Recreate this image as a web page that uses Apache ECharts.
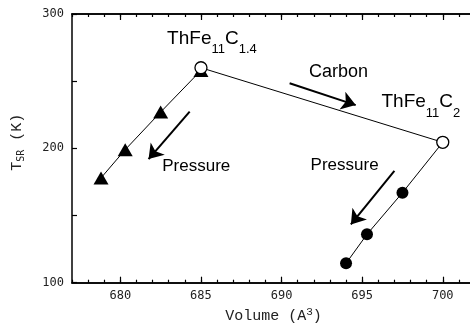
<!DOCTYPE html>
<html><head><meta charset="utf-8">
<script src="https://cdn.jsdelivr.net/npm/echarts@6/dist/echarts.min.js"></script>
<style>html,body{margin:0;padding:0;background:#fff;}#c{width:470px;height:324px;}</style>
</head><body><div id="c"></div>
<script>
// ---- data ----
const xMin = 677, xMax = 702;
const yMin = 100, yMax = 300;
const xMajorTicks = [680, 685, 690, 695, 700];
const yTickLabels = [100, 200, 300];
// ThFe11C1.4 under pressure (triangles)
const c14Volume = [685.0, 682.5, 680.3, 678.8];
const c14Tsr    = [258, 227, 199, 178];
// ThFe11C2 under pressure (filled circles)
const c2Volume = [700.0, 697.5, 695.3, 694.0];
const c2Tsr    = [204.5, 167, 136, 114.4];
// ambient-pressure compounds (open circles)
const ambVolume = [685.0, 700.0];
const ambTsr    = [260, 204.5];
// arrows [x0,y0,x1,y1] in data units
const arrows = [
  [690.5, 248.4, 694.6, 232.2],
  [684.3, 227.3, 681.75, 192.0],
  [697.0, 183.3, 694.3, 143.4]
];
// text annotations: anchor (left, middle of main text) in data units
const notes = [
  {x: 682.9, y: 281.4, size: 19, text: '{m|ThFe}{s|11}{m|C}{s|1.4}'},
  {x: 691.7, y: 256.0, size: 18, text: '{m|Carbon}'},
  {x: 696.2, y: 234.1, size: 19, text: '{m|ThFe}{s|11}{m|C}{s|2}'},
  {x: 682.6, y: 185.4, size: 17, text: '{m|Pressure}'},
  {x: 691.8, y: 186.1, size: 17, text: '{m|Pressure}'}
];

const zip = (a, b) => a.map((v, i) => [v, b[i]]);
const monoFont = 'DejaVu Sans Mono';
const chart = echarts.init(document.getElementById('c'), null, {renderer: 'canvas'});

function xAxis(pos, major, labels) {
  return {
    type: 'value', position: pos, min: xMin, max: xMax, interval: 1,
    axisLine: {show: true, onZero: false, lineStyle: {color: '#000', width: 1.5}},
    axisTick: major ? {show: true, inside: true, length: 6, customValues: xMajorTicks, lineStyle: {color: '#000', width: 1.2}}
                    : {show: true, inside: true, length: 3, lineStyle: {color: '#000', width: 1.2}},
    axisLabel: labels ? {show: true, customValues: xMajorTicks, margin: 7, fontFamily: monoFont, fontSize: 12, color: '#222'} : {show: false},
    splitLine: {show: false}
  };
}
function yAxis(pos, labels) {
  return {
    type: 'value', position: pos, min: yMin, max: yMax, interval: 50,
    axisLine: {show: true, onZero: false, lineStyle: {color: '#000', width: 1.5}},
    axisTick: {show: true, inside: true, length: 5, lineStyle: {color: '#000', width: 1.2}},
    axisLabel: labels ? {show: true, margin: 8, fontFamily: monoFont, fontSize: 12, color: '#222',
      formatter: v => yTickLabels.indexOf(v) >= 0 ? String(v) : ''} : {show: false},
    splitLine: {show: false}
  };
}

const xs = [xAxis('bottom', false, false), xAxis('bottom', true, true), xAxis('top', false, false), xAxis('top', true, false)];
xs[1].name = 'Volume (A{sup|3})';
xs[1].nameLocation = 'middle';
xs[1].nameGap = 24;
xs[1].nameTextStyle = {fontFamily: 'Liberation Mono', fontSize: 15, color: '#222',
  rich: {sup: {fontFamily: 'Liberation Mono', fontSize: 11, padding: [0, 0, 8, 0], verticalAlign: 'top'}}};
const ys = [yAxis('left', true), yAxis('right', false)];
ys[0].name = 'T{sub|SR} (K)';
ys[0].nameLocation = 'middle';
ys[0].nameGap = 46;
ys[0].nameRotate = 90;
ys[0].nameTextStyle = {fontFamily: 'Liberation Mono', fontSize: 15, color: '#222', padding: [0, 0, 0, 12],
  rich: {sub: {fontFamily: 'DejaVu Sans Mono', fontSize: 10, padding: [8, 0, 0, 0], verticalAlign: 'bottom'}}};

chart.setOption({
  animation: false,
  backgroundColor: '#fff',
  grid: {left: 72, top: 14, width: 403, height: 268.7, containLabel: false, outerBoundsMode: 'none'},
  xAxis: xs,
  yAxis: ys,
  series: [
    {type: 'line', data: zip(c14Volume, c14Tsr), symbol: 'triangle', symbolSize: [15, 13],
     itemStyle: {color: '#000'}, lineStyle: {color: '#000', width: 1}, z: 2},
    {type: 'line', data: zip(c2Volume, c2Tsr), symbol: 'circle', symbolSize: 12,
     itemStyle: {color: '#000'}, lineStyle: {color: '#000', width: 1}, z: 2},
    {type: 'line', data: zip(ambVolume, ambTsr), symbol: 'circle', symbolSize: 12, showSymbol: true,
     itemStyle: {color: '#fff', borderColor: '#000', borderWidth: 1.3}, lineStyle: {color: '#000', width: 1}, z: 3},
    {type: 'lines', coordinateSystem: 'cartesian2d', polyline: false,
     data: arrows.map(a => ({coords: [[a[0], a[1]], [a[2], a[3]]]})),
     symbol: ['none', 'arrow'], symbolSize: [6, 14],
     lineStyle: {color: '#000', width: 2, opacity: 1}, z: 4}
  ]
});

const graphics = notes.map(n => {
  const p = chart.convertToPixel({xAxisIndex: 1, yAxisIndex: 0}, [n.x, n.y]);
  const lh = 20;
  return {
    type: 'text', x: p[0], y: p[1] - lh / 2,
    style: {
      text: n.text, fill: '#000', align: 'left', verticalAlign: 'top',
      rich: {
        m: {fontFamily: 'Liberation Sans', fontSize: n.size, lineHeight: lh, verticalAlign: 'top', fill: '#000'},
        s: {fontFamily: 'Liberation Sans', fontSize: 13, lineHeight: 14, padding: [14, 0, 0, 0], verticalAlign: 'top', fill: '#000'}
      }
    }
  };
});
chart.setOption({graphic: graphics});
</script></body></html>
